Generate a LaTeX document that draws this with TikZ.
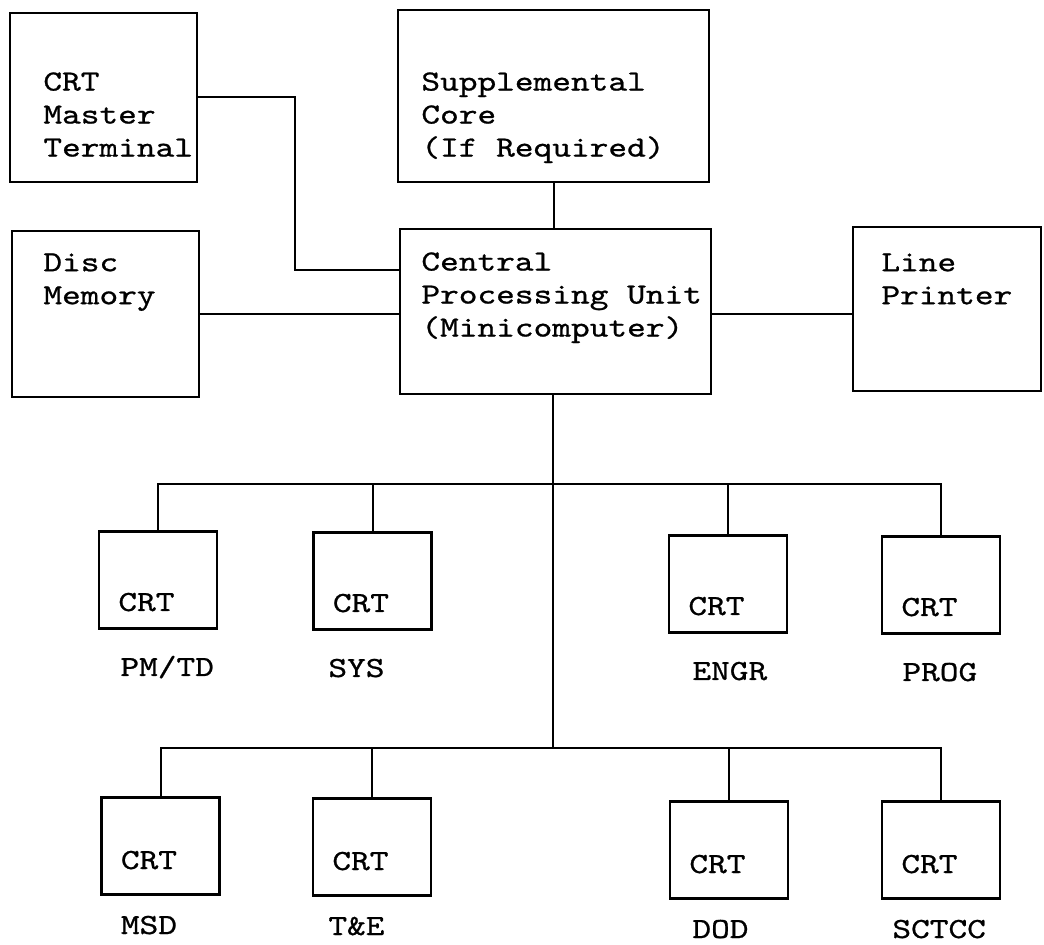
\documentclass[tikz,border=0pt]{standalone}
\usepackage{fontspec}
\newfontfamily\typewriter[FakeStretch=1.22,FakeBold=0.8]{lmmono10-regular.otf}

\tikzset{
  unit/.style={draw, line width=1.1pt, inner sep=0pt},
  words/.style={align=left, inner sep=0pt, anchor=north west},
  tag/.style={inner sep=0pt, anchor=base west},
  wire/.style={line width=1pt}
}

\begin{document}
\begin{tikzpicture}[x=0.5pt, y=-0.5pt, font={\typewriter\fontsize{14.6}{16.5}\selectfont}]
\useasboundingbox (0,0) rectangle (1044,945);
% upper units
\node[unit, minimum width=93.5pt, minimum height=84.5pt] (master) at (103.5,97.5) {};
\node[unit, minimum width=155.5pt, minimum height=86pt] (supp) at (553.5,96) {};
\node[unit, minimum width=93.5pt, minimum height=83pt] (disc) at (105.5,314) {};
\node[unit, minimum width=155.5pt, minimum height=82.5pt] (cpu) at (555.5,311.5) {};
\node[unit, minimum width=94pt, minimum height=82pt] (printer) at (947,309) {};
\node[words] (master-txt) at (43,72) {CRT\\Master\\Terminal};
\node[words] (supp-txt) at (421,72) {Supplemental\\Core\\(If Required)};
\node[words] (disc-txt) at (43,253) {Disc\\Memory};
\node[words] (cpu-txt) at (421,252) {Central\\Processing Unit\\(Minicomputer)};
\node[words] (printer-txt) at (881,253) {Line\\Printer};

% terminals
\foreach \n/\cx/\cy/\lx/\lbl in {pmtd/158/580/-38/{PM/TD}, sys/372.5/581/-44.5/SYS,
    engr/728/584/-36/ENGR, prog/941/585/-39/PROG} {
  \node[unit, minimum width=59pt, minimum height=48.5pt] (\n) at (\cx,\cy) {};
  \node[tag] (\n-crt) at (\cx-40,\cy+31) {CRT};
  \node[tag] (\n-lbl) at (\cx+\lx,\cy+96) {\lbl};
}
\foreach \n/\cx/\cy/\lx/\lbl in {msd/160.5/846/-40/MSD, te/372/847/-44/{T\&E},
    dod/729/850/-37/DOD, sctcc/941/850/-49/SCTCC} {
  \node[unit, minimum width=59pt, minimum height=48.5pt] (\n) at (\cx,\cy) {};
  \node[tag] (\n-crt) at (\cx-40,\cy+23) {CRT};
  \node[tag] (\n-lbl) at (\cx+\lx,\cy+88) {\lbl};
}

% wiring
\coordinate (jog) at (295,270);
\coordinate (bus1) at (553,484);
\coordinate (bus2) at (553,748);
\draw[wire] (master.east) -| (jog) -- (jog -| cpu.west);
\draw[wire] (disc.east) -- (disc.east -| cpu.west);
\draw[wire] (cpu.east |- disc.east) -- (printer.west |- disc.east);
\draw[wire] (supp.south) -- (supp.south |- cpu.north);
\draw[wire] (bus1 |- cpu.south) -- (bus2);
\draw[wire] (pmtd.north) |- (bus1) -| (prog.north);
\draw[wire] (sys.north) -- (sys.north |- bus1);
\draw[wire] (engr.north) -- (engr.north |- bus1);
\draw[wire] (msd.north) |- (bus2) -| (sctcc.north);
\draw[wire] (te.north) -- (te.north |- bus2);
\draw[wire] (dod.north) -- (dod.north |- bus2);
\end{tikzpicture}
\end{document}
